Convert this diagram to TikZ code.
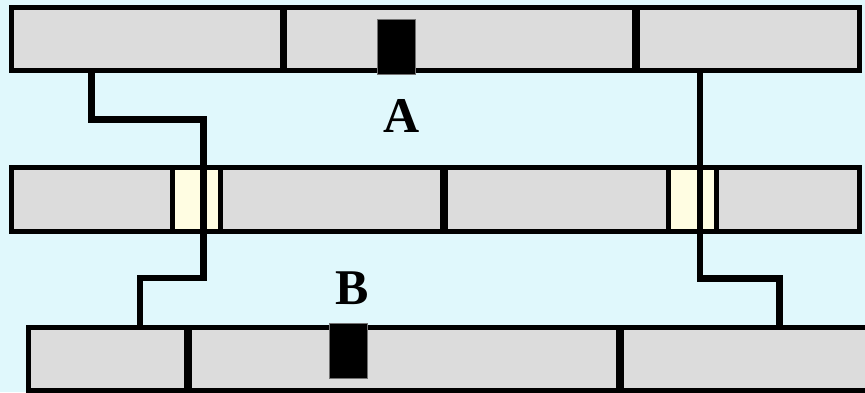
\documentclass[tikz,border=0pt]{standalone}
\usepackage{fontspec}
\setmainfont{Liberation Serif}
\definecolor{skybg}{RGB}{224,248,252}
\definecolor{segfill}{RGB}{220,220,220}
\definecolor{gatefill}{RGB}{255,253,226}
% segment node spanning x1..x2, y1..y2 (border centre lines)
\newcommand\barseg[6]{%
  \node[#6, minimum width={(#4)-(#2)}, minimum height={(#5)-(#3)}]
    (#1) at ({((#2)+(#4))/2},{((#3)+(#5))/2}) {};}
\tikzset{
  seg/.style={draw=black, fill=segfill, line width=5pt, inner sep=0pt, outer sep=0pt},
  gate/.style={draw=black, fill=gatefill, line width=5pt, inner sep=0pt, outer sep=0pt},
  blockmark/.style={draw=black!55, fill=black, line width=0.6pt, inner sep=0pt, outer sep=0pt},
  wire/.style={draw=black, line width=6.5pt, line join=miter, line cap=butt},
  tag/.style={font=\fontsize{50}{60}\selectfont\bfseries, inner sep=0pt, anchor=base}
}
\begin{document}
\begin{tikzpicture}[x=1pt,y=-1pt]
  \fill[skybg] (0,0) rectangle (865,392);
  \useasboundingbox (0,0) rectangle (865,392);

  % upper bar
  \barseg{t1}{11.5}{7}{282.5}{70.5}{seg}
  \barseg{t2}{284.5}{7}{634.5}{70.5}{seg}
  \barseg{t3}{637.5}{7}{859.5}{70.5}{seg}

  % middle bar with two passages
  \barseg{m1}{11.7}{167}{172.5}{231}{seg}
  \barseg{m2}{220}{167}{442.5}{231}{seg}
  \barseg{m3}{445.5}{167}{668.5}{231}{seg}
  \barseg{m4}{716}{167}{859.7}{231}{seg}
  \barseg{g1}{172.5}{167}{220}{231}{gate}
  \barseg{g2}{668.5}{167}{716}{231}{gate}

  % lower bar
  \barseg{b1}{28.5}{327}{186.5}{390}{seg}
  \barseg{b2}{189.2}{327}{618.5}{390}{seg}
  \barseg{b3}{621.5}{327}{880}{390}{seg}

  % markers
  \barseg{ka}{377}{19}{415}{74}{blockmark}
  \barseg{kb}{329}{323}{367}{378}{blockmark}
  \node[tag] (la) at (401.5,132.5) {A};
  \node[tag] (lb) at (352,304) {B};

  % wire end points on the bars
  \coordinate (w1s) at (91.5,70.5);
  \coordinate (w1e) at (140,327);
  \coordinate (w2s) at (700,70.5);
  \coordinate (w2e) at (779.5,327);

  \draw[wire] (w1s) -- (91.5,119.5) -- (203.5,119.5) -- (203.5,278) -- (140,278) -- (w1e);
  \draw[wire] (w2s) -- (700,278.5) -- (779.5,278.5) -- (w2e);
\end{tikzpicture}
\end{document}
